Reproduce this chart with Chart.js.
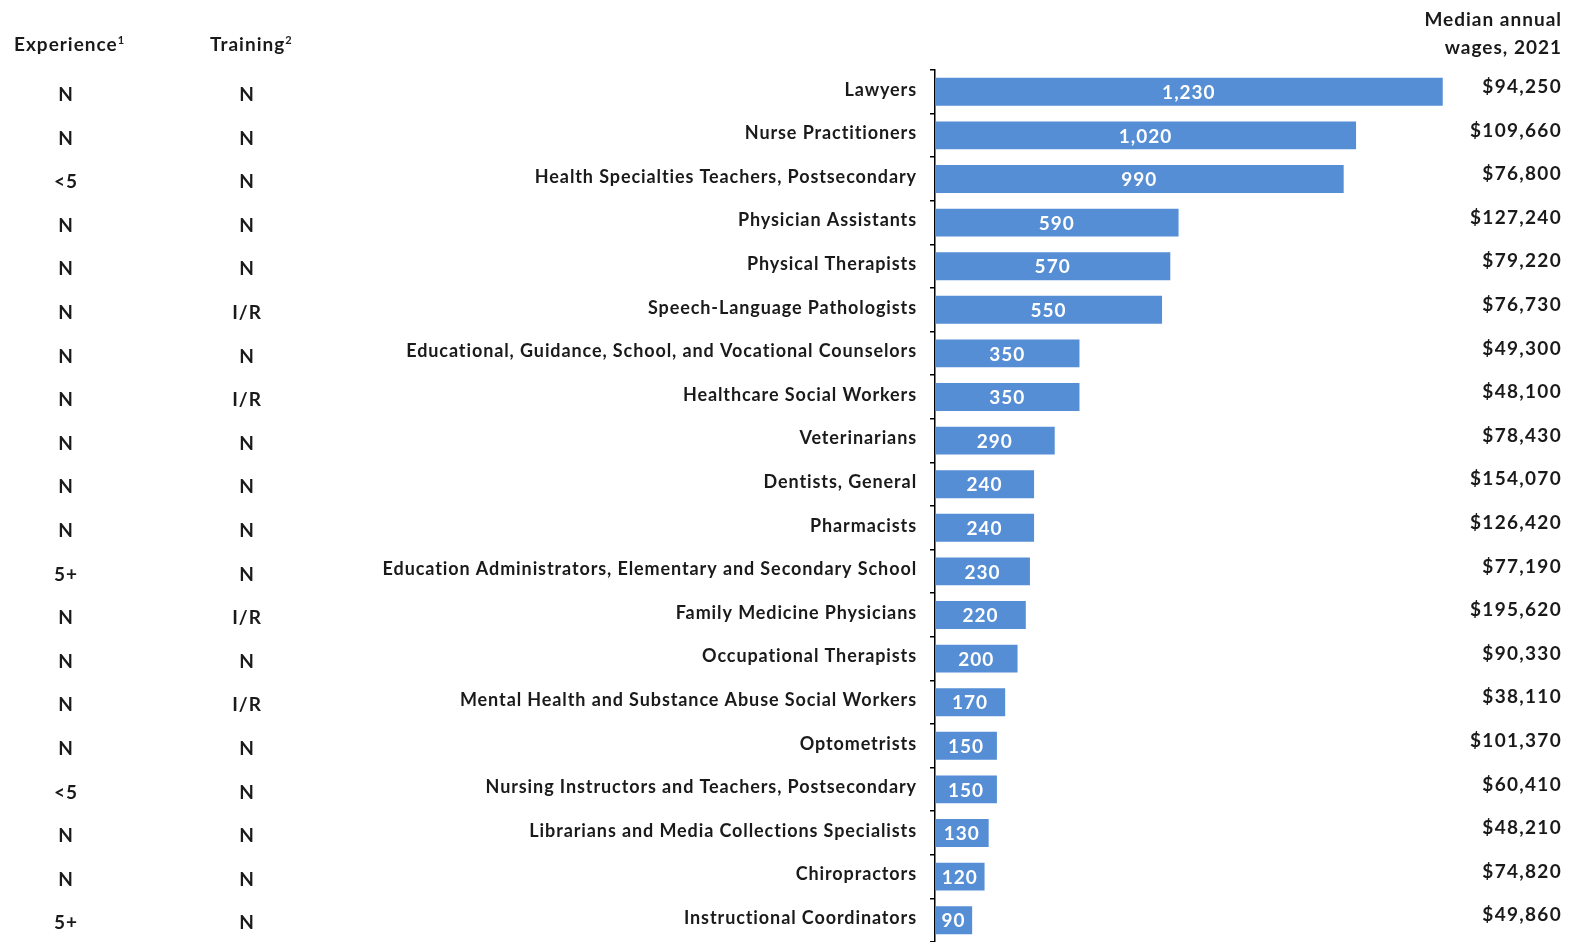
<!DOCTYPE html>
<html>
<head>
<meta charset="utf-8">
<script src="https://cdn.jsdelivr.net/npm/chart.js@4/dist/chart.umd.min.js"></script>
<style>
  html, body { margin: 0; padding: 0; background: #fff; }
  #wrap { width: 1577px; height: 942px; }
</style>
</head>
<body>
<div id="wrap"><canvas id="chart" width="1577" height="942"></canvas></div>
<script>
var occupations = [
  "Lawyers",
  "Nurse Practitioners",
  "Health Specialties Teachers, Postsecondary",
  "Physician Assistants",
  "Physical Therapists",
  "Speech-Language Pathologists",
  "Educational, Guidance, School, and Vocational Counselors",
  "Healthcare Social Workers",
  "Veterinarians",
  "Dentists, General",
  "Pharmacists",
  "Education Administrators, Elementary and Secondary School",
  "Family Medicine Physicians",
  "Occupational Therapists",
  "Mental Health and Substance Abuse Social Workers",
  "Optometrists",
  "Nursing Instructors and Teachers, Postsecondary",
  "Librarians and Media Collections Specialists",
  "Chiropractors",
  "Instructional Coordinators"
];
var openings = [1230, 1020, 990, 590, 570, 550, 350, 350, 290, 240, 240, 230, 220, 200, 170, 150, 150, 130, 120, 90];
var experience = ["N", "N", "<5", "N", "N", "N", "N", "N", "N", "N", "N", "5+", "N", "N", "N", "N", "<5", "N", "N", "5+"];
var training = ["N", "N", "N", "N", "N", "I/R", "N", "I/R", "N", "N", "N", "N", "I/R", "N", "I/R", "N", "N", "N", "N", "N"];
var wages = ["$94,250", "$109,660", "$76,800", "$127,240", "$79,220", "$76,730", "$49,300", "$48,100", "$78,430", "$154,070",
  "$126,420", "$77,190", "$195,620", "$90,330", "$38,110", "$101,370", "$60,410", "$48,210", "$74,820", "$49,860"];

var FONT = "Lato, 'Liberation Sans', sans-serif";
var INK = "#1a1a1a";

// spacing for the category labels drawn by the axis
var spacing = {
  id: "spacing",
  beforeDraw: function(chart) { chart.ctx.letterSpacing = "0.9px"; }
};

// white value labels inside the bars
var barLabels = {
  id: "barLabels",
  afterDatasetsDraw: function(chart) {
    var ctx = chart.ctx;
    var meta = chart.getDatasetMeta(0);
    ctx.save();
    ctx.letterSpacing = "1px";
    ctx.fillStyle = "#ffffff";
    ctx.font = "bold 19px " + FONT;
    ctx.textAlign = "center";
    ctx.textBaseline = "middle";
    meta.data.forEach(function(bar, i) {
      var cx = (bar.x + bar.base) / 2;
      ctx.fillText(openings[i].toLocaleString("en-US"), cx, bar.y + 1);
    });
    ctx.restore();
  }
};

// side columns: experience, training, wages
var sideColumns = {
  id: "sideColumns",
  afterDraw: function(chart) {
    var ctx = chart.ctx;
    var y = chart.scales.y;
    ctx.save();
    ctx.fillStyle = INK;
    ctx.textBaseline = "middle";
    ctx.letterSpacing = "1px";

    ctx.font = "bold 19px " + FONT;
    ctx.textAlign = "left";
    ctx.fillText("Experience", 14, 45);
    var w1 = ctx.measureText("Experience").width;
    ctx.fillText("Training", 210, 45);
    var w2 = ctx.measureText("Training").width;
    ctx.font = "bold 11px " + FONT;
    ctx.fillText("1", 14 + w1, 40);
    ctx.fillText("2", 210 + w2, 40);

    ctx.font = "bold 19px " + FONT;
    ctx.textAlign = "right";
    ctx.fillText("Median annual", 1562, 20);
    ctx.fillText("wages, 2021", 1562, 48);

    occupations.forEach(function(name, i) {
      var py = y.getPixelForValue(i);
      ctx.textAlign = "center";
      ctx.fillText(experience[i], 66, py + 3);
      ctx.fillText(training[i], 247, py + 3);
      ctx.textAlign = "right";
      ctx.letterSpacing = "1.3px";
      ctx.fillText(wages[i], 1562, py - 5);
      ctx.letterSpacing = "1px";
    });
    ctx.restore();
  }
};

new Chart(document.getElementById("chart").getContext("2d"), {
  type: "bar",
  data: {
    labels: occupations,
    datasets: [{
      data: openings,
      backgroundColor: "#558ed5",
      borderWidth: 0,
      barPercentage: 0.8,
      categoryPercentage: 0.8
    }]
  },
  options: {
    indexAxis: "y",
    responsive: false,
    animation: false,
    layout: { padding: { top: 70, right: 126, bottom: 0, left: 0 } },
    plugins: {
      legend: { display: false },
      tooltip: { enabled: false }
    },
    scales: {
      x: {
        display: false,
        min: 0,
        max: 1250
      },
      y: {
        afterFit: function(s) {
          s.width = 935;
          s.paddingTop = 0;
          s.paddingBottom = 0;
        },
        border: { display: true, color: "#000", width: 1.5 },
        grid: { display: true, drawOnChartArea: false, offset: true, color: "#000", lineWidth: 1.5, tickLength: 5 },
        ticks: {
          color: INK,
          padding: 13,
          labelOffset: -2,
          autoSkip: false,
          font: { family: FONT, size: 18, weight: "bold" }
        }
      }
    }
  },
  plugins: [spacing, barLabels, sideColumns]
});
</script>
</body>
</html>
